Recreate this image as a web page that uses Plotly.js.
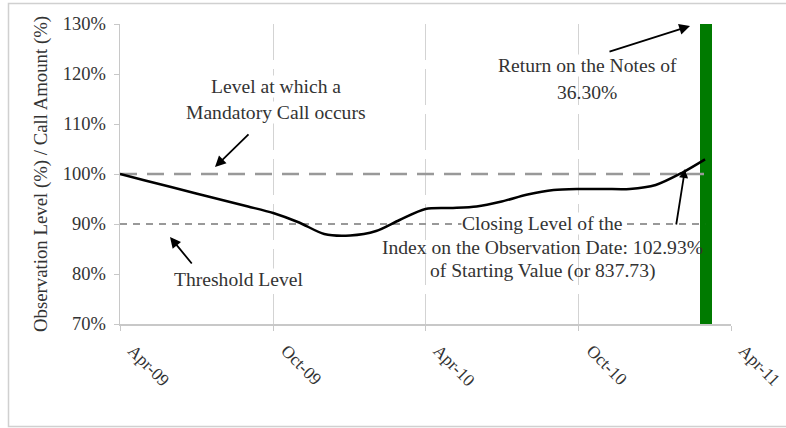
<!DOCTYPE html>
<html>
<head>
<meta charset="utf-8">
<script src="https://cdn.plot.ly/plotly-3.0.1.min.js"></script>
<style>html,body{margin:0;padding:0;background:#fff;}#chart{width:786px;height:428px;}</style>
</head>
<body>
<div id="chart"></div>
<script>
// Data
const dates = ["2009-04-01","2009-05-01","2009-06-01","2009-07-01","2009-08-01","2009-09-01",
  "2009-10-01","2009-11-01","2009-12-01","2010-01-01","2010-02-01","2010-03-01",
  "2010-04-01","2010-05-01","2010-06-01","2010-07-01","2010-08-01","2010-09-01",
  "2010-10-01","2010-11-01","2010-12-01","2011-01-01","2011-02-01","2011-03-01"];
const indexLevel = [100.0, 98.7, 97.4, 96.1, 94.8, 93.5,
  92.2, 90.3, 88.0, 87.7, 88.6, 90.8,
  93.0, 93.2, 93.5, 94.5, 95.9, 96.8,
  97.0, 97.0, 97.0, 97.8, 100.2, 102.93];
const levelDates = ["2009-04-01", "2011-03-01"];
const mandatoryCallLevel = [100, 100];
const thresholdLevel = [90, 90];
const observationDate = ["2011-03-02"];
const returnOnNotes = [136.30];
const tickDates = ["2009-04-01","2009-10-01","2010-04-01","2010-10-01","2011-04-01"];
const tickLabels = ["Apr-09","Oct-09","Apr-10","Oct-10","Apr-11"];
const yTickVals = [70, 80, 90, 100, 110, 120, 130];
const yTickLabels = ["70%","80%","90%","100%","110%","120%","130%"];

const serif = "'Liberation Serif', 'Times New Roman', serif";
const txt = "#333";

const traces = [
  {x: observationDate, y: returnOnNotes, type: "bar", marker: {color: "#007A00", line:{width:0}},
   width: 14*86400000, hoverinfo: "skip"},
  {x: levelDates, y: mandatoryCallLevel, type: "scatter", mode: "lines",
   line: {color: "#999", width: 2.5, dash: "17px,10px"}},
  {x: levelDates, y: thresholdLevel, type: "scatter", mode: "lines",
   line: {color: "#999", width: 2.2, dash: "7px,6px"}},
  {x: dates, y: indexLevel, type: "scatter", mode: "lines",
   line: {color: "#000", width: 2.5, shape: "spline", smoothing: 0.8}}
];

function px(x){ return (x-120)/611; }
function py(y){ return (324-y)/300; }
const textFont = {family: serif, size: 19.6, color: txt};

function label(x, y, text, bg){
  return {xref:"paper", yref:"paper", x: px(x), y: py(y), text: text, xanchor:"center", yanchor:"middle",
    showarrow:false, font:textFont, bgcolor: bg === false ? "rgba(0,0,0,0)" : "#fff", borderpad:0};
}
function arrow(hx, hy, tx, ty, size){
  return {xref:"paper", yref:"paper", x: px(hx), y: py(hy), ax: tx-hx, ay: ty-hy, text:"",
    showarrow:true, arrowhead:2, arrowsize:size||1.2, arrowwidth:1.8, arrowcolor:"#000", standoff:0};
}

const annotations = [
  label(276, 86, "Level at which a"),
  label(276, 112, "Mandatory Call occurs"),
  label(239, 279, "Threshold Level"),
  label(587, 65, "Return on the Notes of"),
  label(587, 92, "36.30%", false),
  label(542, 223, "Closing Level of the"),
  label(542, 247, "Index on the Observation Date: 102.93%", false),
  label(542, 271, "of Starting Value (or 837.73)", false),
  arrow(215, 167, 250, 133),
  arrow(170, 237, 193, 265),
  arrow(690, 26, 608, 52),
  arrow(685, 169, 676, 226, 1.0)
];

const shapes = [
  {type:"rect", xref:"paper", yref:"paper", x0: px(8.5), x1: px(790), y0: py(426.5), y1: py(3.5),
   line:{color:"#d0d0d0", width:1.5}, fillcolor:"rgba(0,0,0,0)", layer:"below"}
];

const layout = {
  width: 786, height: 428,
  margin: {l: 120, r: 55, t: 24, b: 104},
  paper_bgcolor: "#fff", plot_bgcolor: "#fff",
  showlegend: false,
  bargap: 0,
  xaxis: {
    type: "date",
    range: ["2009-04-01", "2011-04-01"],
    tickvals: tickDates, ticktext: tickLabels,
    tickangle: 45,
    tickfont: {family: serif, size: 17.5, color: txt},
    ticklabelshift: 13, ticklabelstandoff: 3,
    showgrid: true, gridcolor: "#d3d3d3", gridwidth: 1, griddash: "36px,9px",
    showline: true, linecolor: "#c8c8c8", linewidth: 1.5,
    ticks: "outside", ticklen: 5, tickcolor: "#c8c8c8",
    zeroline: false, fixedrange: true
  },
  yaxis: {
    range: [70, 130],
    tickvals: yTickVals, ticktext: yTickLabels,
    tickfont: {family: serif, size: 18.5, color: txt},
    ticklabelstandoff: 4,
    showgrid: false,
    showline: true, linecolor: "#c8c8c8", linewidth: 1.5,
    ticks: "outside", ticklen: 5, tickcolor: "#c8c8c8",
    zeroline: false,
    title: {text: "Observation Level (%) / Call Amount (%)", font: {family: serif, size: 18.8, color: txt}, standoff: 10},
    fixedrange: true
  },
  annotations: annotations,
  shapes: shapes
};

Plotly.newPlot("chart", traces, layout, {displayModeBar: false, staticPlot: true});
</script>
</body>
</html>
